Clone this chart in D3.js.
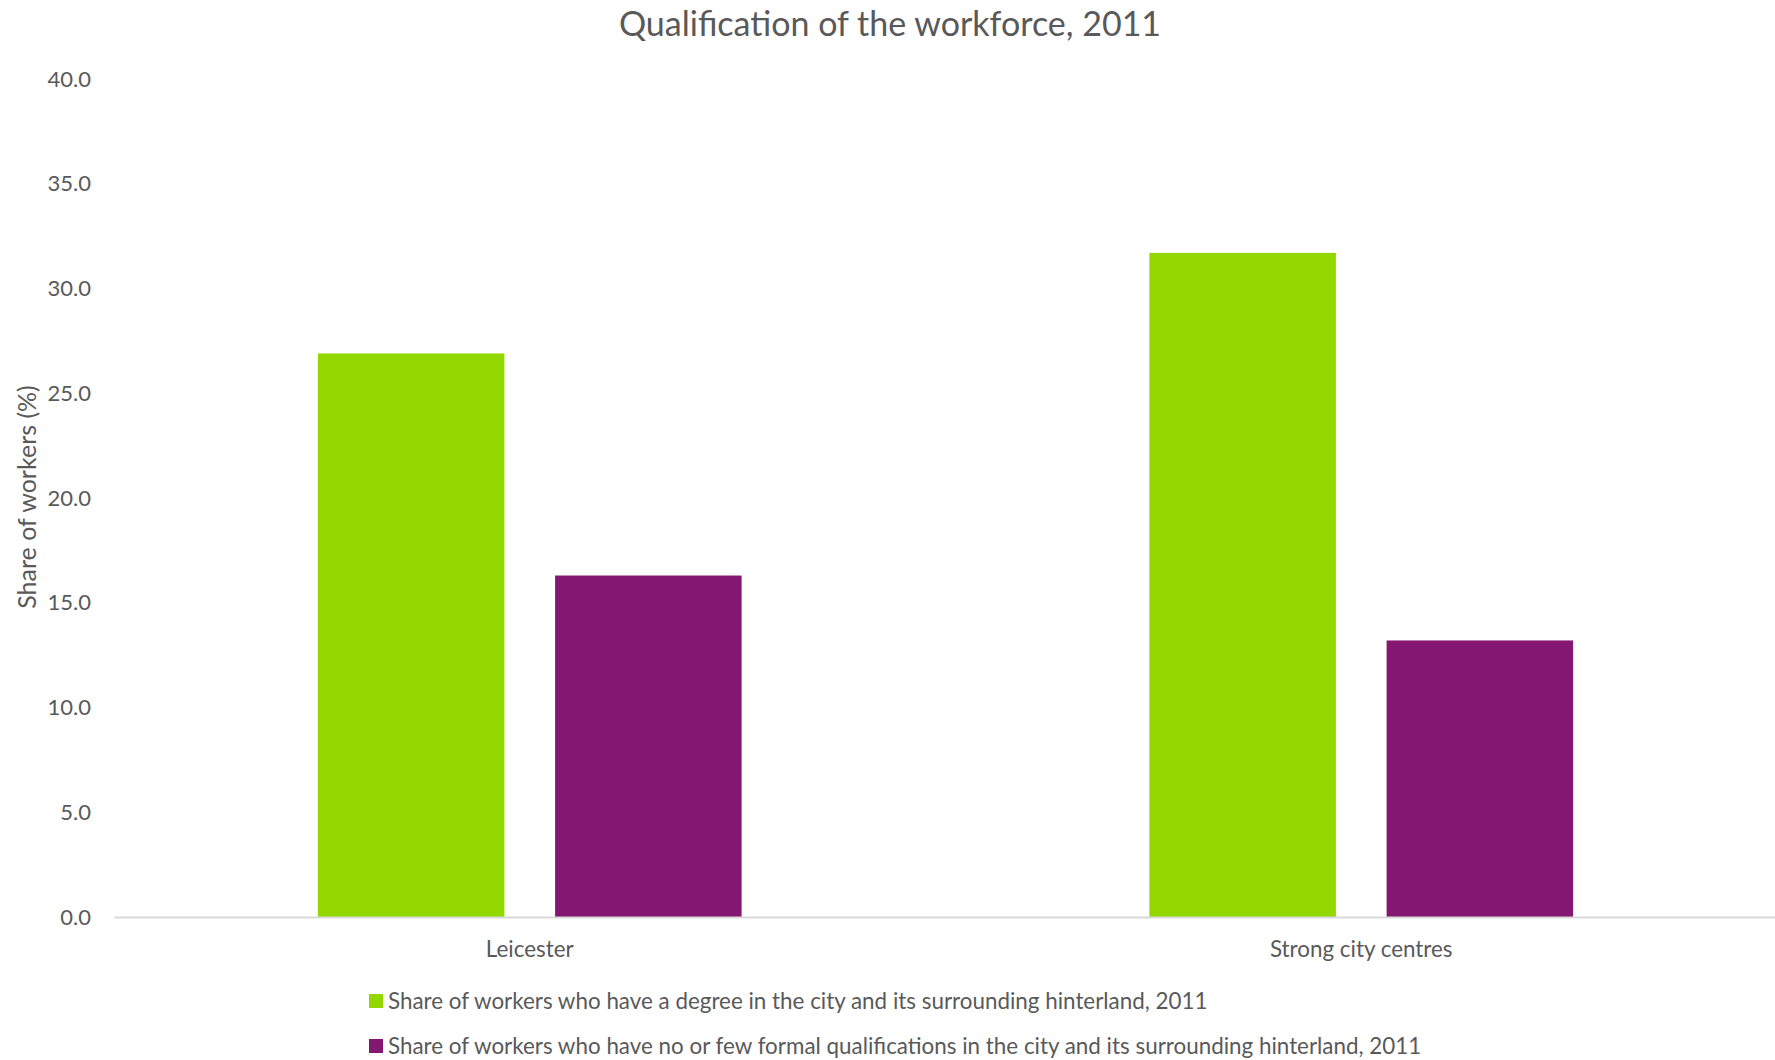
<!DOCTYPE html>
<html>
<head>
<meta charset="utf-8">
<script src="https://cdn.jsdelivr.net/npm/d3@7"></script>
<style>
  html, body { margin: 0; padding: 0; background: #ffffff; }
  svg { display: block; }
  text { font-family: Lato, "Open Sans", sans-serif; fill: #595959; }
</style>
</head>
<body>
<svg id="chart" width="1775" height="1060"></svg>
<script>
// Chart data
const categories = ["Leicester", "Strong city centres"];
const seriesNames = [
  "Share of workers who have a degree in the city and its surrounding hinterland, 2011",
  "Share of workers who have no or few formal qualifications in the city and its surrounding hinterland, 2011"
];
const degreeShare = [26.9, 31.7];
const lowQualShare = [16.3, 13.2];
const yTicks = [0, 5, 10, 15, 20, 25, 30, 35, 40];
const seriesColors = ["#92D800", "#841771"];

const chartTitle = "Qualification of the workforce, 2011";
const yAxisTitle = "Share of workers (%)";

const rows = categories.map((c, i) => ({
  category: c,
  values: [degreeShare[i], lowQualShare[i]]
}));

const svg = d3.select("#chart");
const plot = { left: 114, right: 1777, top: 79, bottom: 917 };

const x0 = d3.scaleBand()
  .domain(categories)
  .range([plot.left, plot.right])
  .paddingInner(0)
  .paddingOuter(0);

const x1 = d3.scaleBand()
  .domain(d3.range(seriesNames.length))
  .range([0, x0.bandwidth()])
  .paddingInner(0.2138)
  .paddingOuter(0.8596);

const y = d3.scaleLinear()
  .domain([0, 40])
  .range([plot.bottom, plot.top]);

// Title
svg.append("text")
  .attr("x", 890)
  .attr("y", 36)
  .attr("text-anchor", "middle")
  .style("font-size", "34px")
  .text(chartTitle);

// Y axis (labels only)
const yAxis = d3.axisLeft(y)
  .tickValues(yTicks)
  .tickFormat(d3.format(".1f"))
  .tickSize(0)
  .tickPadding(0);

const yg = svg.append("g")
  .attr("transform", `translate(91,0)`)
  .call(yAxis);
yg.select(".domain").remove();
yg.selectAll("text")
  .style("font-family", "Lato, sans-serif")
  .style("font-size", "22px")
  .attr("fill", "#595959");

// Y axis title
svg.append("text")
  .attr("transform", "translate(36,497) rotate(-90)")
  .attr("text-anchor", "middle")
  .style("font-size", "25px")
  .text(yAxisTitle);

// Bars
const groups = svg.append("g")
  .selectAll("g")
  .data(rows)
  .join("g")
  .attr("transform", d => `translate(${x0(d.category)},0)`);

groups.selectAll("rect")
  .data(d => d.values.map((v, i) => ({ v, i })))
  .join("rect")
  .attr("x", d => x1(d.i))
  .attr("width", x1.bandwidth())
  .attr("y", d => y(d.v))
  .attr("height", d => y(0) - y(d.v))
  .attr("fill", d => seriesColors[d.i]);

// X axis
const xAxis = d3.axisBottom(x0).tickSize(0).tickPadding(0);
const xg = svg.append("g")
  .attr("transform", `translate(0,${y(0)})`)
  .call(xAxis);
xg.select(".domain")
  .attr("stroke", "#d9d9d9")
  .attr("stroke-width", 2);
xg.selectAll("text")
  .attr("dy", 0)
  .attr("y", 40)
  .style("font-family", "Lato, sans-serif")
  .style("font-size", "22.4px")
  .attr("fill", "#595959");

// Legend
const legend = svg.append("g")
  .selectAll("g")
  .data(seriesNames)
  .join("g")
  .attr("transform", (d, i) => `translate(369,${994 + i * 45})`);

legend.append("rect")
  .attr("width", 14)
  .attr("height", 14)
  .attr("fill", (d, i) => seriesColors[i]);

legend.append("text")
  .attr("x", 19)
  .attr("y", 15)
  .style("font-size", "22.4px")
  .text(d => d);
</script>
</body>
</html>
